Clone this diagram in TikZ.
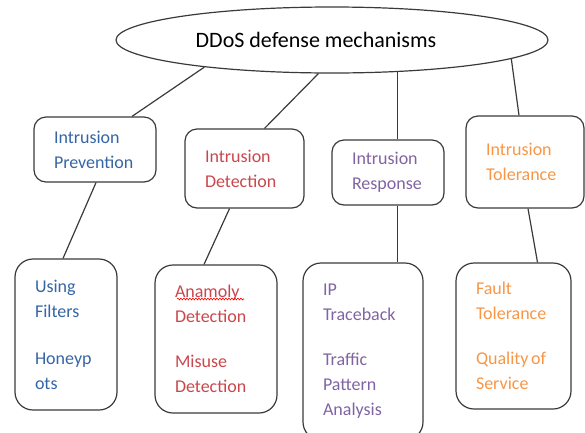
\documentclass[tikz,border=0pt]{standalone}
\usepackage{fontspec}
\setmainfont{Carlito}
\usepackage{xcolor}
\definecolor{mainDark}{HTML}{3A3A3A}
\definecolor{preventColor}{HTML}{3565A6}
\definecolor{detectColor}{HTML}{C9474C}
\definecolor{responseColor}{HTML}{8064A2}
\definecolor{toleranceColor}{HTML}{F79646}
\usepackage{tikz}
\usetikzlibrary{shapes,arrows,positioning,calc,decorations.pathmorphing}
\tikzset{
  mainOval/.style={
    ellipse,
    draw=mainDark,
    line width=1.2pt,
    minimum width=432pt,
    minimum height=66pt,
    inner sep=0pt,
    font=\fontsize{22}{26}\selectfont
 },
  topBox/.style={
    rectangle,
    rounded corners=12pt,
    draw=mainDark,
    line width=1.2pt,
    inner xsep=20pt,
    inner ysep=0pt,
    align=left,
    font=\fontsize{18}{25}\selectfont
 },
  leafBox/.style={
    topBox,
    rounded corners=18pt
 },
  linkLine/.style={
    line width=1.2pt,
    color=mainDark
 },
  spellMark/.style={
    draw=red,
    line width=0.6pt,
    decorate,
    decoration={snake, segment length=3pt, amplitude=0.9pt}
 }
}

\begin{document}
\begin{tikzpicture}[x=1pt,y=-1pt]
    \useasboundingbox (0,0) rectangle (585,432);

    \node[mainOval] (title) at (332,40) {DDoS defense mechanisms\hspace*{32pt}};

    \node[topBox, text=preventColor, text width=82pt, minimum height=65pt] (prev) at (95,149.5) {Intrusion\\Prevention};
    \node[topBox, text=detectColor, text width=79pt, minimum height=79pt] (det) at (244.5,168.5) {Intrusion\\Detection};
    \node[topBox, text=responseColor, text width=72pt, minimum height=65pt] (resp) at (388,172.5) {Intrusion\\Response};
    \node[topBox, text=toleranceColor, text width=78pt, minimum height=92pt] (tol) at (525,162) {Intrusion\\Tolerance};

    \node[leafBox, text=preventColor, text width=62pt, minimum height=151pt] (filt) at (66,334.5) {Using\\Filters\\[22pt]Honeyp\\ots};
    \node[leafBox, text=detectColor, text width=82pt, minimum height=148pt] (anom) at (216,339) {Anamoly\\Detection\\[20pt]Misuse\\Detection};
    \node[leafBox, text=responseColor, text width=80pt, minimum height=177pt] (trace) at (363,351.5) {IP\\Traceback\\[20pt]Traffic\\Pattern\\Analysis};
    \node[leafBox, text=toleranceColor, text width=75pt, minimum height=146pt] (fault) at (513.5,336) {Fault\\Tolerance\\[20pt]Quality\hspace{2.5pt}of\\Service};

    \draw[spellMark] (177,299) -- (244,299);

    \draw[linkLine] (title.192) -- ($(prev.north)+(37,0)$);
    \draw[linkLine] (title.248) -- ($(det.north)+(20,0)$);
    \draw[linkLine] (title.334) -- (title.334 |- resp.north);
    \draw[linkLine] (title.354) -- ($(tol.north)+(-6,0)$);
    \draw[linkLine] ($(prev.south)+(1,0)$) -- ($(filt.north)+(-3,0)$);
    \draw[linkLine] ($(det.south)+(-15,0)$) -- ($(anom.north)+(-12,0)$);
    \draw[linkLine] (resp.south -| title.334) -- (trace.north -| title.334);
    \draw[linkLine] ($(tol.south)+(3,0)$) -- ($(fault.north)+(24,0)$);
\end{tikzpicture}
\end{document}
